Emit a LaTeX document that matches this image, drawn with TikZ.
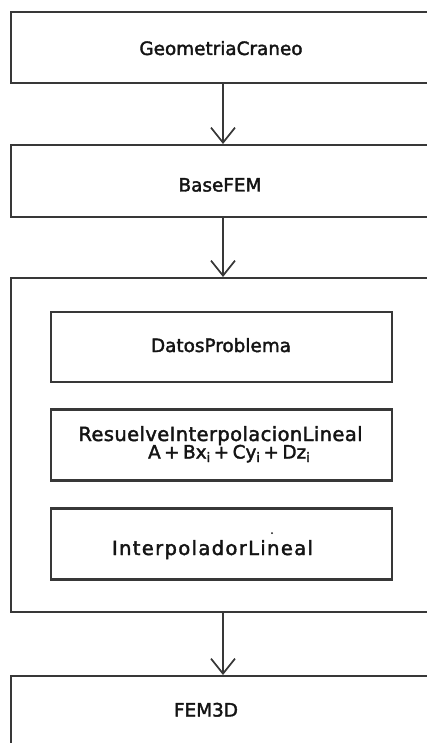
\documentclass[tikz,border=0pt]{standalone}
\usepackage{fontspec}
\setmainfont{DejaVu Sans}[FakeBold=2.0]
\usetikzlibrary{arrows.meta}
\definecolor{edge}{HTML}{383838}
\definecolor{ink}{HTML}{141414}
\newcommand{\subi}{\raisebox{-3.5pt}{\fontsize{13}{13}\selectfont i}}
\newcommand{\pl}{\hspace{3.5pt}+\hspace{3.5pt}}
\begin{document}
\begin{tikzpicture}[x=1pt,y=-1pt,
  outerbox/.style={draw=edge, line width=2pt, fill=white, rectangle, inner sep=0pt,
    minimum width=424pt},
  innerbox/.style={draw=edge, line width=2.7pt, fill=white, rectangle, inner sep=0pt,
    minimum width=341pt, minimum height=71pt},
  lbl/.style={text=ink, inner sep=0pt, anchor=base, font=\fontsize{18.4}{22}\selectfont},
  lblbig/.style={lbl, font=\fontsize{19.5}{22}\selectfont},
  arr/.style={draw=edge, line width=1.7pt, -{Straight Barb[length=15pt, width=24pt, line width=1.7pt]}}
]
\useasboundingbox (0,0) rectangle (427,743);
\clip (0,0) rectangle (427,743);
\fill[white] (0,0) rectangle (427,743);

% boxes
\node[outerbox, minimum height=71pt] (geo) at (223,47.5) {};
\node[outerbox, minimum height=72pt] (base) at (223,181) {};
\node[outerbox, minimum height=334pt] (cont) at (223,445) {};
\node[innerbox, minimum height=70pt] (datos) at (221.5,347) {};
\node[innerbox] (res) at (221.5,445) {};
\node[innerbox] (interp) at (221.5,544) {};
\node[outerbox, minimum height=80pt] (fem) at (223,716) {};

% texts
\node[lbl] (geotext) at (221,55) {GeometriaCraneo};
\node[lbl] (basetext) at (220,191.5) {BaseFEM};
\node[lbl] (datostext) at (221,352) {DatosProblema};
\node[lblbig] (restext) at (220.5,441) {\addfontfeature{LetterSpace=2}ResuelveInterpolacionLineal};
\node[lbl] (resformula) at (229,458.5)
  {A\pl Bx\subi\pl Cy\subi\pl Dz\subi};
\node[lblbig] (interptext) at (212.5,555) {\addfontfeature{LetterSpace=7}InterpoladorLineal};
\node[circle, fill=ink, inner sep=0pt, minimum size=2pt] (dot) at (272,533) {};
\node[lbl] (femtext) at (206,716.5) {FEM3D};

% connectors
\draw[arr] (geo.south) -- (base.north);
\draw[arr] (base.south) -- (cont.north);
\draw[arr] (cont.south) -- (fem.north);
\end{tikzpicture}
\end{document}
